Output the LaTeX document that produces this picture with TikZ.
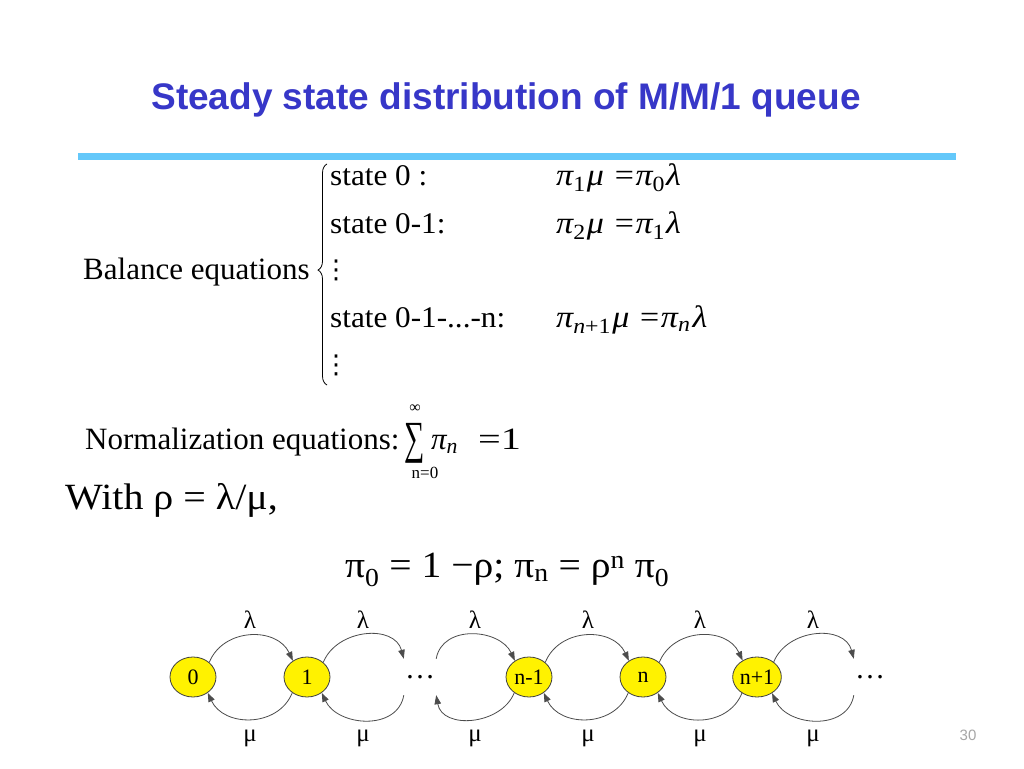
\documentclass[tikz,border=0pt]{standalone}
\usepackage{fontspec}
\setmainfont{Liberation Serif}
\newfontfamily\titlefont{Liberation Sans}
\newfontfamily\symfont{DejaVu Sans}
\usetikzlibrary{shapes.geometric,arrows.meta,decorations.pathreplacing}
\newcommand\fs[1]{\fontsize{#1}{#1}\selectfont}
\newcommand\lo[1]{\textsubscript{\upshape #1}}
\newcommand\loi[1]{\textsubscript{\itshape #1}}
\newcommand\wide[2]{\scalebox{#1}[1]{#2}}
\definecolor{titleblue}{RGB}{55,55,200}
\definecolor{rulebl}{RGB}{100,200,250}
\begin{document}
\begin{tikzpicture}[x=1pt,y=1pt,
  txt/.style={inner sep=0pt, anchor=base west},
  stnode/.style={ellipse, draw=black!75, fill=yellow, line width=0.8pt, minimum width=46pt, minimum height=40pt, inner sep=0pt, font=\fs{22}},
  dotnode/.style={minimum width=32pt, minimum height=36pt, inner sep=0pt, font=\fs{30}},
  arc/.style={draw=black!70, line width=0.8pt, -{Triangle[length=9pt,width=6.5pt]}, looseness=1.15},
  lab/.style={font=\fs{25}, inner sep=0pt}
]
\useasboundingbox (0,0) rectangle (1024,768);
\fill[white] (0,0) rectangle (1024,768);

% title and rule
\node[inner sep=0pt, anchor=base, text=titleblue, font=\titlefont\bfseries\fs{37}] (title) at (506,658) {Steady state distribution of M/M/1 queue};
\draw[rulebl, line width=7pt] (78,611) -- (956,611);

% balance equations
\node[txt, font=\fs{31}] (bal) at (83,488) {Balance equations};
\draw[line width=0.8pt, decorate, decoration={brace, amplitude=9pt, aspect=0.52}] (327,383) -- (327,604);
\node[txt, font=\fs{30}] (s0) at (330,582) {\wide{1.04}{state 0 :}};
\node[txt, font=\fs{30}] (s1) at (330,534) {\wide{1.04}{state 0-1:}};
\node[inner sep=0pt, font=\symfont\fs{26}] (vd1) at (336,498) {⋮};
\node[txt, font=\fs{30}] (sn) at (330,440) {\wide{1.04}{state 0-1-...-n:}};
\node[inner sep=0pt, font=\symfont\fs{26}] (vd2) at (336,403) {⋮};
\node[txt, font=\fs{31}\itshape] (e0) at (556,582) {\wide{1.1}{π\lo{1}\kern1ptμ\ =π\lo{0}\kern1ptλ}};
\node[txt, font=\fs{31}\itshape] (e1) at (556,534) {\wide{1.1}{π\lo{2}\kern1ptμ\ =π\lo{1}\kern1ptλ}};
\node[txt, font=\fs{31}\itshape] (en) at (556,440) {\wide{1.1}{π\textsubscript{\itshape n\upshape +1}\kern1ptμ\ =π\loi{n}\kern2ptλ}};

% normalization
\node[txt, font=\fs{31}] (norm) at (85,318) {Normalization equations:};
\node[inner sep=0pt, font=\fs{46}] (sum) at (415,325) {\scalebox{0.62}[1]{∑}};
\node[inner sep=0pt, font=\fs{16}] (inf) at (415,359) {∞};
\node[inner sep=0pt, font=\fs{17}] (n0) at (425,295) {n=0};
\node[txt, font=\fs{31}\itshape] (pin) at (431,318) {π\loi{n}};
\node[txt, font=\fs{31}] (eq1) at (478,318) {\wide{1.3}{=1}};

% rho
\node[txt, font=\fs{37}] (with) at (65,258) {\wide{1.08}{With ρ = λ/μ,}};
\node[txt, font=\fs{37}] (res) at (345,190) {\wide{1.07}{π\textsubscript{0} = 1 −ρ; π\textsubscript{n} = ρ\textsuperscript{n} π\textsubscript{0}}};

% chain
\node[stnode] (a0) at (193,91) {0};
\node[stnode] (a1) at (307,91) {1};
\node[dotnode] (d1) at (420,91) {…};
\node[stnode] (am) at (529,91) {n-1};
\node[stnode] (an) at (643,91) {n};
\node[stnode] (ap) at (757,91) {n+1};
\node[dotnode] (d2) at (870,91) {…};

\draw[arc] (a0.42) to[out=68,in=115] (a1.131);
\draw[arc] (a1.-133) to[out=-112,in=-65] (a0.-47);
\draw[arc] (a1.42) to[out=68,in=105] (d1.north west);
\draw[arc] (d1.south west) to[out=-100,in=-65] (a1.-47);
\draw[arc] (d1.north east) to[out=80,in=115] (am.131);
\draw[arc] (am.-133) to[out=-112,in=-80] (d1.south east);
\draw[arc] (am.42) to[out=68,in=115] (an.131);
\draw[arc] (an.-133) to[out=-112,in=-65] (am.-47);
\draw[arc] (an.42) to[out=68,in=115] (ap.131);
\draw[arc] (ap.-133) to[out=-112,in=-65] (an.-47);
\draw[arc] (ap.42) to[out=68,in=105] (d2.north west);
\draw[arc] (d2.south west) to[out=-100,in=-65] (ap.-47);

\foreach \x/\nm in {250/l1,363/l2,475/l3,588/l4,700/l5,813/l6}{
  \node[lab] (\nm) at (\x,148) {λ};
}
\foreach \x/\nm in {250/m1,363/m2,475/m3,588/m4,700/m5,813/m6}{
  \node[lab] (\nm) at (\x,30) {μ};
}

\node[inner sep=0pt, text=black!35, font=\titlefont\fs{15}] (pg) at (968,33) {30};
\end{tikzpicture}
\end{document}
